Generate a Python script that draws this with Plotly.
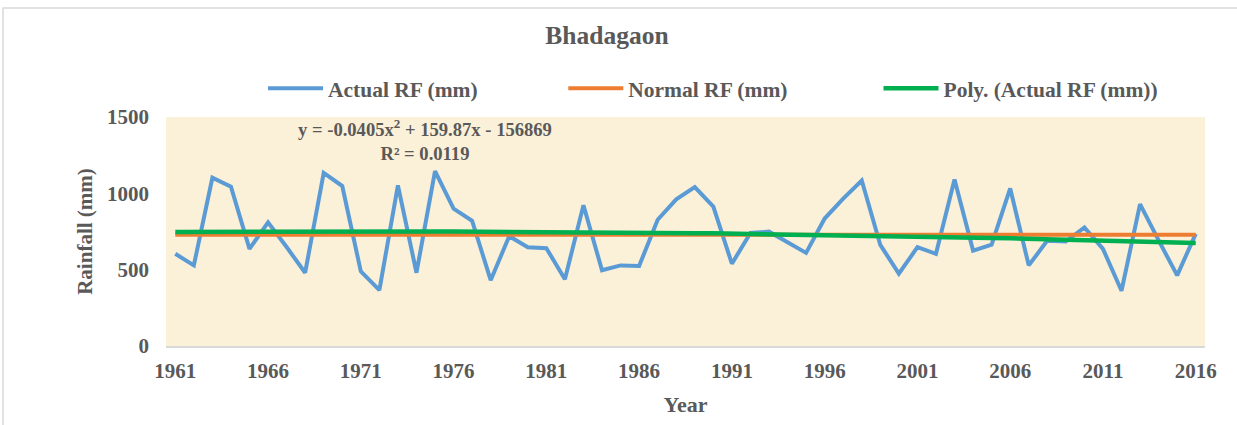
import numpy as np
import plotly.graph_objects as go

years = list(range(1961, 2017))
actual_rf = [604, 528, 1102, 1043, 636, 810, 648, 480, 1134, 1048,
             489, 366, 1052, 480, 1145, 900, 820, 431, 719, 647,
             641, 437, 922, 496, 528, 524, 827, 961, 1041, 913,
             539, 740, 749, 680, 610, 835, 965, 1084, 662, 474,
             647, 604, 1091, 625, 664, 1032, 528, 690, 684, 777,
             636, 362, 929, 692, 463, 734]
normal_value = 729
normal_rf = [normal_value] * len(years)
x_ticks = list(range(1961, 2017, 5))
series_names = ["Actual RF (mm)", "Normal RF (mm)", "Poly. (Actual RF (mm))"]

# 2nd-order polynomial trendline fitted to the actual series
poly = np.polynomial.Polynomial.fit(years, actual_rf, 2)
trend_rf = poly(np.array(years, dtype=float))

FONT = "Liberation Serif"
GREY = "#595959"
NB = "\u00a0"

fig = go.Figure()
fig.add_trace(go.Scatter(x=years, y=actual_rf, mode="lines",
                         name=f"<b>{series_names[0]}</b>" + NB * 15,
                         line=dict(color="#5B9BD5", width=4)))
fig.add_trace(go.Scatter(x=years, y=normal_rf, mode="lines",
                         name=f"<b>{series_names[1]}</b>" + NB * 16,
                         line=dict(color="#ED7D31", width=4)))
fig.add_trace(go.Scatter(x=years, y=trend_rf, mode="lines",
                         name=f"<b>{series_names[2]}</b>",
                         line=dict(color="#00B050", width=4.5)))

fig.update_layout(
    width=1237, height=425,
    margin=dict(l=166, r=32, t=117, b=77),
    paper_bgcolor="white",
    plot_bgcolor="#FBF0D8",
    font=dict(family=FONT, size=21, color=GREY),
    title=dict(text="<b>Bhadagaon</b>", x=607 / 1237, xanchor="center",
               y=1 - 35 / 425, yanchor="middle",
               font=dict(family=FONT, size=25.5, color=GREY)),
    showlegend=True,
    legend=dict(orientation="h", x=(263 - 166) / 1039, xanchor="left", y=1 + (117 - 88) / 231,
                yanchor="middle", font=dict(size=21.5, color=GREY, family=FONT),
                bgcolor="rgba(0,0,0,0)", itemwidth=55, tracegroupgap=0),
    xaxis=dict(range=[1960.5, 2016.5], tickmode="array", tickvals=x_ticks,
               ticktext=[f"<b>{t}</b>" for t in x_ticks], showgrid=False,
               zeroline=False, showline=True, linecolor="#D9D9D9", linewidth=1.5,
               ticks="", ticklabelstandoff=5, tickfont=dict(family=FONT, size=21),
               title=dict(text="<b>Year</b>", standoff=15, font=dict(family=FONT, size=22))),
    yaxis=dict(range=[0, 1500], tickvals=[0, 500, 1000, 1500],
               ticktext=["<b>0</b>", "<b>500</b>", "<b>1000</b>", "<b>1500</b>"],
               showgrid=False, zeroline=False, showline=False, ticks="",
               ticklabelstandoff=16, tickfont=dict(family=FONT, size=21),
               title=dict(text="<b>Rainfall (mm)</b>", standoff=8,
                          font=dict(family=FONT, size=21))),
    shapes=[dict(type="rect", xref="paper", yref="paper",
                 x0=(3 - 166) / 1039, x1=(1240 - 166) / 1039,
                 y0=-(430 - 348) / 231, y1=1 + (117 - 7) / 231,
                 line=dict(color="#D9D9D9", width=1.5), fillcolor="rgba(0,0,0,0)", layer="below")],
    annotations=[
        dict(text="<b>y = -0.0405x<sup>2</sup> + 159.87x - 156869</b><br><b>R² = 0.0119</b>",
             xref="paper", yref="paper", x=(425 - 166) / 1039, y=1 - (140 - 117) / 231,
             xanchor="center", yanchor="middle", showarrow=False, align="center",
             font=dict(size=18.6, color=GREY, family=FONT)),
    ],
)

fig.write_html("out.html", config={"displayModeBar": False},
               post_script="document.body.style.margin='0px';")
